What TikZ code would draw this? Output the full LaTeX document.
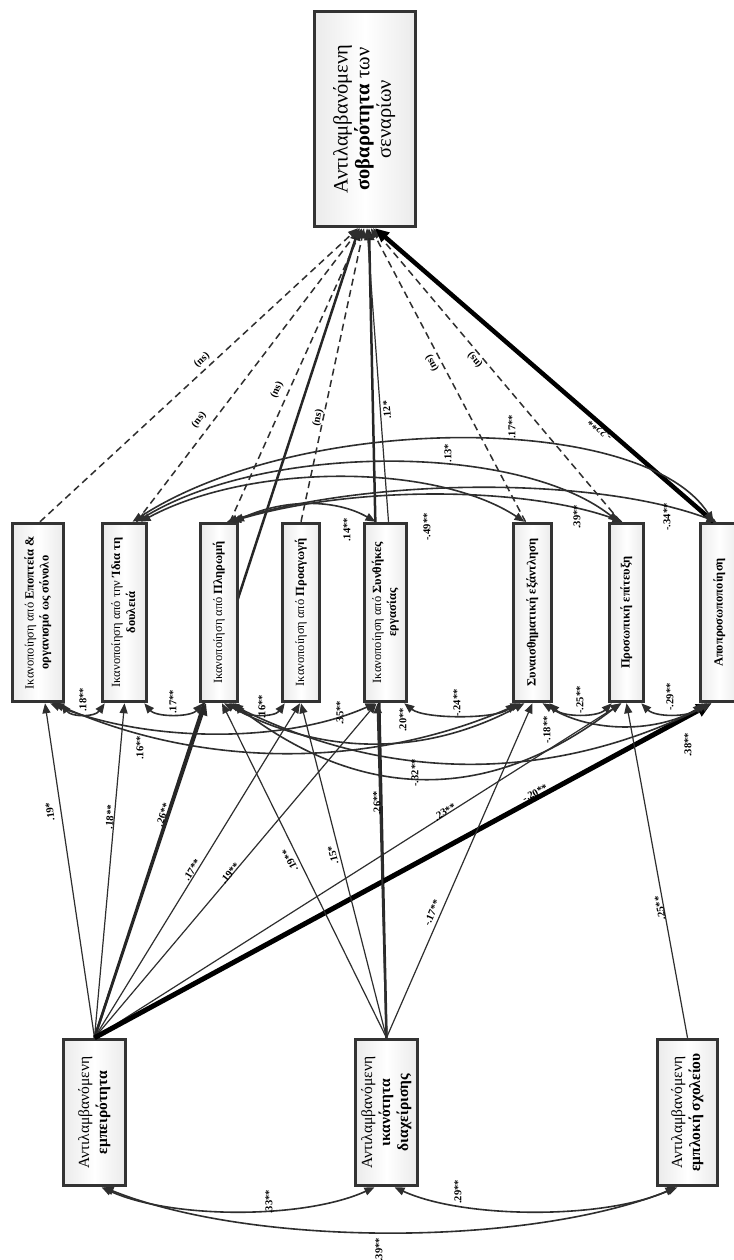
\documentclass[tikz,border=0pt]{standalone}
\usepackage{fontspec}
\setmainfont{Liberation Serif}
\usetikzlibrary{arrows.meta,shadows}
\pgfdeclarelayer{bg}
\pgfsetlayers{bg,main}
\newcommand{\midtxt}[1]{\rotatebox{90}{\fontsize{12.5}{15}\selectfont\begin{tabular}{@{}c@{}}#1\end{tabular}}}
\newcommand{\toptxt}[1]{\rotatebox{90}{\fontsize{20.5}{21.5}\selectfont\begin{tabular}{@{}c@{}}#1\end{tabular}}}
\newcommand{\bottxt}[1]{\rotatebox{90}{\fontsize{15.5}{18}\selectfont\begin{tabular}{@{}c@{}}#1\end{tabular}}}
\tikzset{
  box/.style={draw=black!80, line width=3.5pt, inner sep=0pt,
    left color=gray!16, right color=gray!16, middle color=white,
    drop shadow={shadow xshift=1.5pt, shadow yshift=1.5pt, opacity=.25}},
  ln/.style={draw=black!82, line width=1.2pt, -{Triangle[length=10pt,width=8pt]}},
  tk/.style={draw=black!85, line width=2.5pt, -{Triangle[length=12pt,width=10pt]}},
  tkk/.style={draw=black, line width=5pt, -{Triangle[length=15pt,width=13pt]}},
  dsh/.style={draw=black!82, line width=1.5pt, dash pattern=on 7pt off 4.5pt, -{Triangle[length=10pt,width=8pt]}},
  arc/.style={draw=black!82, line width=1.6pt, {Triangle[length=10pt,width=8pt]}-{Triangle[length=10pt,width=8pt]}},
  lab/.style={font=\fontsize{10.5}{11}\selectfont\bfseries, inner sep=0.5pt, text=black}
}
\begin{document}
\begin{tikzpicture}[x=1pt,y=-1pt]
\useasboundingbox (0,0) rectangle (733,1260);
\begin{pgfonlayer}{bg}
\fill[white] (0,0) rectangle (733,1260);
\end{pgfonlayer}

% boxes
\node[box, minimum width=101pt, minimum height=215pt] (top) at (365,119)
  {\toptxt{Αντιλαμβανόμενη\\\textbf{σοβαρότητα} των\\σεναρίων}};
\node[box, minimum width=51pt, minimum height=178pt] (b1) at (38,612.5)
  {\midtxt{Ικανοποίηση από \textbf{Εποπτεία \&}\\\textbf{οργανισμό ως σύνολο}}};
\node[box, minimum width=44pt, minimum height=178pt] (b2) at (124.5,612.5)
  {\midtxt{Ικανοποίηση από την \textbf{Ίδια τη}\\\textbf{δουλειά}}};
\node[box, minimum width=37pt, minimum height=178pt] (b3) at (219,612.5)
  {\midtxt{Ικανοποίηση από \textbf{Πληρωμή}}};
\node[box, minimum width=37pt, minimum height=178pt] (b4) at (301,612.5)
  {\midtxt{Ικανοποίηση από \textbf{Προαγωγή}}};
\node[box, minimum width=42pt, minimum height=178pt] (b5) at (385.5,612.5)
  {\midtxt{Ικανοποίηση από \textbf{Συνθήκες}\\\textbf{εργασίας}}};
\node[box, minimum width=38pt, minimum height=178pt] (b6) at (532.5,612.5)
  {\midtxt{\textbf{Συναισθηματική εξάντληση}}};
\node[box, minimum width=34pt, minimum height=178pt] (b7) at (626.5,612.5)
  {\midtxt{\textbf{Προσωπική επίτευξη}}};
\node[box, minimum width=38pt, minimum height=178pt] (b8) at (719.5,612.5)
  {\midtxt{\textbf{Αποπροσωποποίηση}}};
\node[box, minimum width=62pt, minimum height=146pt] (A) at (94.5,1112.5)
  {\bottxt{Αντιλαμβανόμενη\\\textbf{εμπειρότητα}}};
\node[box, minimum width=62pt, minimum height=146pt] (B) at (386.5,1112.5)
  {\bottxt{Αντιλαμβανόμενη\\\textbf{ικανότητα}\\\textbf{διαχείρισης}}};
\node[box, minimum width=60pt, minimum height=146pt] (C) at (687.5,1112.5)
  {\bottxt{Αντιλαμβανόμενη\\\textbf{εμπλοκή σχολείου}}};

% direct paths drawn behind the boxes
\begin{pgfonlayer}{bg}
\draw[tk] (A.north) -- ([xshift=-6pt]top.south);
\draw[tk] (B.north) -- ([xshift=4pt]top.south);
\end{pgfonlayer}

% predictors -> mediators
\draw[ln] (A.north) -- ([xshift=7pt]b1.south);
\draw[ln] (A.north) -- (b2.south);
\draw[tk] (A.north) -- ([xshift=-13pt]b3.south);
\draw[ln] (A.north) -- ([xshift=-1pt]b4.south);
\draw[ln] (A.north) -- ([xshift=-9pt]b5.south);
\draw[ln] (A.north) -- ([xshift=-5pt]b7.south);
\draw[tkk] (A.north) -- ([xshift=-8pt]b8.south);
\draw[ln] (B.north) -- ([xshift=3pt]b3.south);
\draw[ln] (B.north) -- (b4.south);
\draw[ln, line width=2pt] (B.north) -- ([xshift=-8pt]b5.south);
\draw[ln] (B.north) -- (b6.south);
\draw[ln] (C.north) -- (b7.south);

% mediators -> outcome
\draw[dsh] ([xshift=2pt]b1.north) -- ([xshift=-7pt]top.south);
\draw[dsh] ([xshift=12pt]b2.north) -- ([xshift=-5pt]top.south);
\draw[dsh] ([xshift=11pt]b3.north) -- ([xshift=-3pt]top.south);
\draw[dsh] (b4.north) -- ([xshift=-1pt]top.south);
\draw[ln] ([xshift=3pt]b5.north) -- ([xshift=2pt]top.south);
\draw[dsh] ([xshift=-7pt]b6.north) -- ([xshift=6pt]top.south);
\draw[dsh] ([xshift=-6pt]b7.north) -- ([xshift=8pt]top.south);
\draw[draw=black, line width=4.5pt, -{Triangle[length=14pt,width=12pt]}] ([xshift=-6pt]b8.north) -- ([xshift=10pt]top.south);

% correlations above the mediators
\draw[arc] ([xshift=8pt]b2.north) .. controls +(170,-110) and +(-70,-110) .. ([xshift=-6pt]b8.north);
\draw[arc] ([xshift=12pt]b2.north) .. controls +(130,-79) and +(-100,-79) .. ([xshift=-8pt]b7.north);
\draw[arc] ([xshift=16pt]b2.north) .. controls +(110,-59) and +(-90,-59) .. ([xshift=-8pt]b6.north);
\draw[arc] ([xshift=8pt]b3.north) .. controls +(150,-45) and +(-120,-45) .. ([xshift=-3pt]b8.north);
\draw[arc] ([xshift=12pt]b3.north) .. controls +(120,-36) and +(-100,-36) .. ([xshift=-4pt]b7.north);
\draw[arc] ([xshift=15pt]b3.north) .. controls +(50,-23) and +(-40,-23) .. ([xshift=-10pt]b5.north);

% correlations below the mediators
\draw[arc] ([xshift=-4pt]b1.south east) .. controls +(10,14) and +(-10,14) .. ([xshift=4pt]b2.south west);
\draw[arc] ([xshift=-4pt]b2.south east) .. controls +(12,14) and +(-12,14) .. ([xshift=4pt]b3.south west);
\draw[arc] ([xshift=-4pt]b3.south east) .. controls +(10,14) and +(-10,14) .. ([xshift=4pt]b4.south west);
\draw[arc] ([xshift=-4pt]b5.south east) .. controls +(20,16) and +(-20,16) .. ([xshift=4pt]b6.south west);
\draw[arc] ([xshift=-4pt]b6.south east) .. controls +(14,14) and +(-14,14) .. ([xshift=4pt]b7.south west);
\draw[arc] ([xshift=-4pt]b7.south east) .. controls +(14,14) and +(-14,14) .. ([xshift=4pt]b8.south west);
\draw[arc] ([xshift=12pt]b1.south) .. controls +(100,40) and +(-90,40) .. ([xshift=-10pt]b5.south);
\draw[arc] ([xshift=16pt]b1.south) .. controls +(150,66) and +(-150,66) .. ([xshift=-12pt]b6.south);
\draw[arc] ([xshift=5pt]b3.south) .. controls +(100,53) and +(-100,53) .. ([xshift=-8pt]b6.south);
\draw[arc] ([xshift=10pt]b6.south) .. controls +(50,30) and +(-50,30) .. ([xshift=-12pt]b8.south);
\draw[arc] ([xshift=10pt]b3.south) .. controls +(160,80) and +(-160,80) .. ([xshift=-8pt]b8.south);
\draw[arc] ([xshift=14pt]b3.south) .. controls +(130,100) and +(-130,100) .. ([xshift=-6pt]b7.south);

% correlations among predictors
\draw[arc] ([xshift=7pt]A.south) .. controls +(70,32) and +(-70,32) .. ([xshift=-12pt]B.south);
\draw[arc] ([xshift=8pt]B.south) .. controls +(70,32) and +(-70,32) .. ([xshift=-12pt]C.south);
\draw[arc] ([xshift=9pt]A.south) .. controls +(150,60) and +(-150,60) .. ([xshift=-10pt]C.south);

% labels: predictor paths
\node[lab, rotate=98.5] (l1) at (50,812) {.19*};
\node[lab, rotate=85] (l2) at (110,817) {.18**};
\node[lab, rotate=71.4] (l3) at (163,815) {.26**};
\node[lab, rotate=58.4] (l4) at (192,870) {.17**};
\node[lab, rotate=50] (l5) at (230,873) {.19**};
\node[lab, rotate=32.3] (l6) at (445,812) {.23**};
\node[lab, rotate=28.4] (l7) at (535,793) {-.20**};
\node[lab, rotate=116.5] (l8) at (290,860) {.19**};
\node[lab, rotate=104.3] (l9) at (333,855) {.15*};
\node[lab, rotate=91.5] (l10) at (377,803) {.26**};
\node[lab, rotate=66.2] (l11) at (432,913) {-.17**};
\node[lab, rotate=100.4] (l12) at (660,908) {.25**};
% labels: mediator paths
\node[lab, rotate=42.4] (m1) at (202,360) {(ns)};
\node[lab, rotate=52.4] (m2) at (199,420) {(ns)};
\node[lab, rotate=65.5] (m3) at (277,390) {(ns)};
\node[lab, rotate=77.8] (m4) at (318,418) {(ns)};
\node[lab, rotate=94.1] (m5) at (387,410) {.12*};
\node[lab, rotate=117.9] (m6) at (432,363) {(ns)};
\node[lab, rotate=130.3] (m7) at (475,360) {(ns)};
\node[lab, rotate=139.2] (m8) at (600,430) {-.22**};
% labels: correlations
\node[lab, rotate=90] (c1) at (83,700) {.18**};
\node[lab, rotate=90] (c2) at (173,702) {.17**};
\node[lab, rotate=90] (c3) at (262,707) {.16**};
\node[lab, rotate=90] (c4) at (340,713) {.35**};
\node[lab, rotate=90] (c5) at (140,748) {.16**};
\node[lab, rotate=90] (c6) at (403,720) {.20**};
\node[lab, rotate=90] (c7) at (457,703) {-.24**};
\node[lab, rotate=90] (c8) at (547,730) {-.18**};
\node[lab, rotate=90] (c9) at (580,700) {-.25**};
\node[lab, rotate=90] (c10) at (670,697) {-.29**};
\node[lab, rotate=90] (c11) at (688,745) {.38**};
\node[lab, rotate=90] (c12) at (415,773) {-.32**};
\node[lab, rotate=90] (c13) at (347,530) {.14**};
\node[lab, rotate=90] (c14) at (427,527) {-.49**};
\node[lab, rotate=90] (c15) at (577,517) {.39**};
\node[lab, rotate=90] (c16) at (667,517) {-.34**};
\node[lab, rotate=90] (c17) at (512,427) {.17**};
\node[lab, rotate=90] (c18) at (448,453) {.13*};
\node[lab, rotate=90] (c19) at (269,1202) {.33**};
\node[lab, rotate=90] (c20) at (458,1192) {.29**};
\node[lab, rotate=90] (c21) at (379,1250) {.39**};
\end{tikzpicture}
\end{document}
